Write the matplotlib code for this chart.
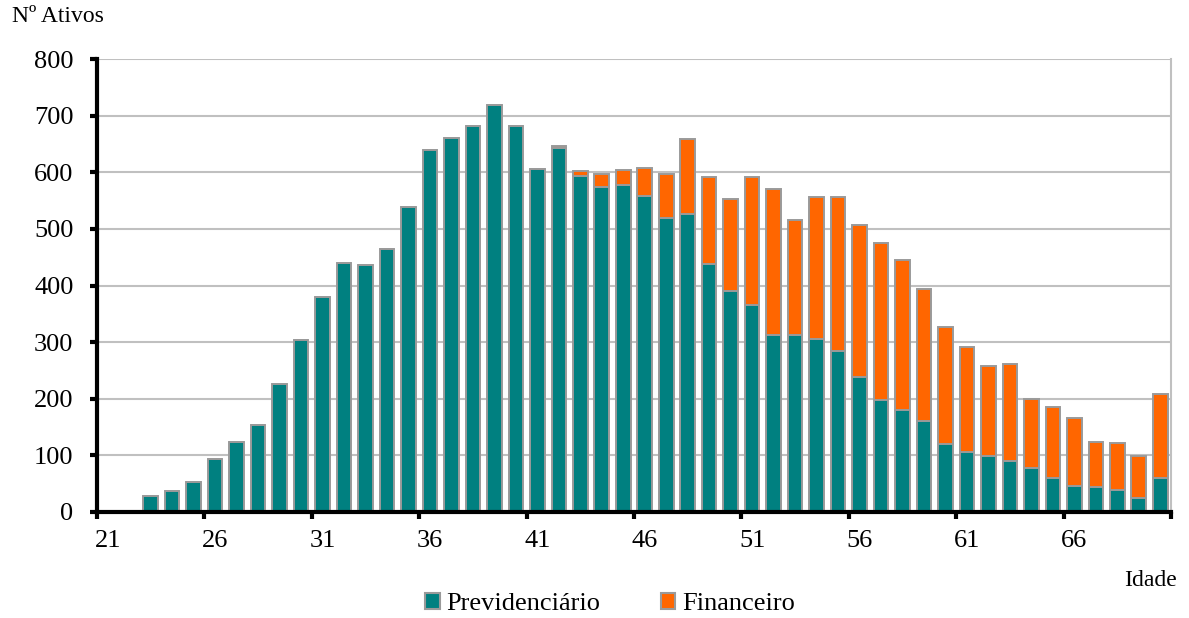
import matplotlib
matplotlib.use("Agg")
import matplotlib.pyplot as plt
from matplotlib.patches import Patch

# Age groups and number of active members per plan
idades = list(range(21, 71))
previdenciario = [1, 1, 28, 37, 53, 94, 123, 153, 225, 304,
                  379, 440, 436, 464, 539, 639, 660, 682, 720, 682,
                  606, 643, 593, 575, 577, 559, 519, 526, 438, 391,
                  366, 312, 312, 306, 285, 239, 198, 180, 160, 119,
                  106, 99, 90, 78, 59, 45, 43, 38, 25, 60]
financeiro = [0, 0, 0, 0, 0, 0, 0, 0, 0, 0,
              0, 0, 0, 0, 0, 0, 0, 0, 0, 0,
              0, 4, 9, 23, 27, 48, 78, 133, 154, 162,
              225, 258, 204, 250, 272, 268, 278, 265, 234, 208,
              186, 158, 172, 121, 126, 120, 81, 83, 74, 148]
rotulos_x = [str(i) for i in range(21, 71, 5)]
rotulos_y = list(range(0, 801, 100))

TEAL = "#008080"
LARANJA = "#FF6600"
BORDA = "#9a9a9a"
GRADE = "#c0c0c0"
FONTE = "Liberation Serif"

plt.rcParams["font.family"] = FONTE

fig = plt.figure(figsize=(11.89, 6.18), dpi=100)
ax = fig.add_axes([97 / 1189, 1 - 511.7 / 618, (1171 - 97) / 1189, (511.7 - 59.3) / 618])

x = list(range(len(idades)))
largura = 0.68
ax.bar(x, previdenciario, width=largura, color=TEAL, edgecolor=BORDA, linewidth=1.4, zorder=3)
ax.bar(x, financeiro, width=largura, bottom=previdenciario, color=LARANJA,
       edgecolor=BORDA, linewidth=1.4, zorder=3)

ax.set_xlim(-0.5, len(idades) - 0.5)
ax.set_ylim(0, 800)

# Gridlines
ax.set_yticks(rotulos_y)
ax.yaxis.grid(True, color=GRADE, linewidth=1.5, zorder=0)
ax.set_axisbelow(True)

# X axis: tick marks between categories, labels centred every five ages
ax.set_xticks([i - 0.5 for i in range(0, len(idades) + 1, 5)])
ax.set_xticklabels([])
ax.set_xticks(list(range(0, len(idades), 5)), minor=True)
ax.set_xticklabels(rotulos_x, minor=True)
ax.tick_params(axis="x", which="major", direction="out", length=5, width=3, color="black")
ax.tick_params(axis="x", which="minor", length=0, pad=13, labelsize=19)
ax.tick_params(axis="y", direction="out", length=5, width=3, color="black",
               pad=12, labelsize=19)

for lado in ("left", "bottom"):
    ax.spines[lado].set_color("black")
    ax.spines[lado].set_linewidth(3)
    ax.spines[lado].set_zorder(4)
ax.spines["right"].set_color(GRADE)
ax.spines["right"].set_linewidth(1.5)
ax.spines["top"].set_visible(False)

fig.text(12 / 1189, 1 - 17 / 618, "Nº Ativos", fontsize=17, va="center", ha="left")
fig.text(1177 / 1189, 1 - 580 / 618, "Idade", fontsize=17, va="center", ha="right")

alcas = [Patch(facecolor=TEAL, edgecolor=BORDA, linewidth=1.5, label="Previdenciário"),
         Patch(facecolor=LARANJA, edgecolor=BORDA, linewidth=1.5, label="Financeiro")]
fig.legend(handles=alcas, loc="center", bbox_to_anchor=(610 / 1189, 1 - 604 / 618),
           ncol=2, frameon=False, fontsize=19, handlelength=0.55, handleheight=0.55,
           handletextpad=0.25, columnspacing=2.3, borderpad=0, borderaxespad=0)

fig.savefig("out.png", dpi=100)
